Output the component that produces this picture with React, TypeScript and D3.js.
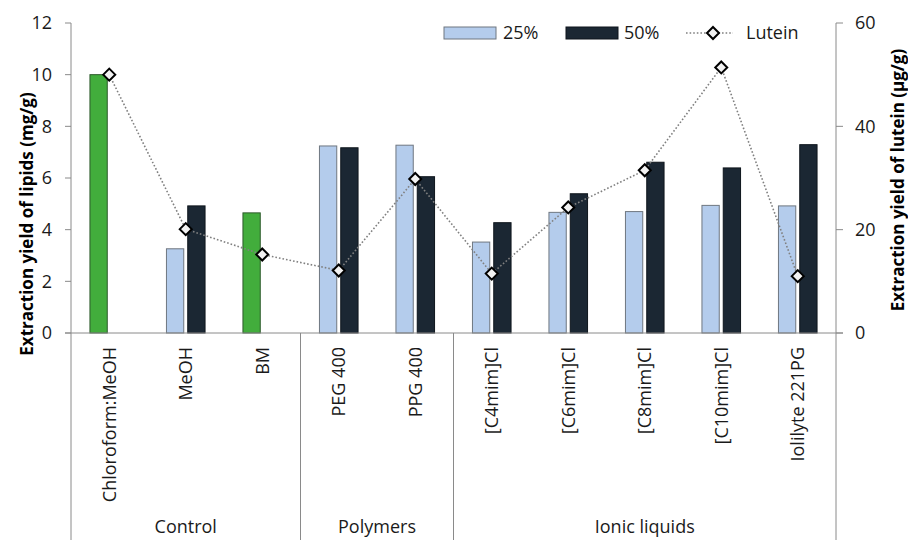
import React from "react";
import * as d3 from "d3";

const categories = ["Chloroform:MeOH", "MeOH", "BM", "PEG 400", "PPG 400", "[C4mim]Cl", "[C6mim]Cl", "[C8mim]Cl", "[C10mim]Cl", "Iolilyte 221PG"];
const groupNames = ["Control", "Polymers", "Ionic liquids"];
const groupSizes = [3, 2, 5];
const values25: (number | null)[] = [10.0, 3.26, 4.65, 7.24, 7.27, 3.52, 4.67, 4.7, 4.94, 4.92];
const values50: (number | null)[] = [null, 4.92, null, 7.17, 6.05, 4.27, 5.39, 6.61, 6.39, 7.29];
const lutein = [50.0, 20.1, 15.2, 12.1, 29.8, 11.5, 24.3, 31.5, 51.4, 11.0];
const greenCategories = ["Chloroform:MeOH", "BM"];
const leftTicks = [0, 2, 4, 6, 8, 10, 12];
const rightTicks = [0, 20, 40, 60];

const W = 908, H = 540;
const X0 = 71, X1 = 836, Y0 = 333, YT = 23;
const FONT = "'Open Sans', sans-serif";
const AXIS = "#8a8a8a";
const C25 = "#b4ccec", C50 = "#1b2733", CG = "#42ad3c";

export default function App() {
  const x = d3.scaleBand<string>().domain(categories).range([X0, X1]).padding(0);
  const yL = d3.scaleLinear().domain([0, 12]).range([Y0, YT]);
  const yR = d3.scaleLinear().domain([0, 60]).range([Y0, YT]);
  const bw = x.bandwidth();
  const barW = 17.3, gap = 4;
  const pairW = barW * 2 + gap;

  const line = d3.line<number>()
    .x((_, i) => x(categories[i])! + bw / 2)
    .y((d) => yR(d));

  const diamond = (cx: number, cy: number, r = 6) =>
    `M${cx},${cy - r}L${cx + r},${cy}L${cx},${cy + r}L${cx - r},${cy}Z`;

  const bounds: number[] = [];
  let acc = 0;
  const groupCenters: number[] = [];
  groupSizes.forEach((n) => {
    const start = x(categories[acc])!;
    const end = x(categories[acc + n - 1])! + bw;
    groupCenters.push((start + end) / 2);
    bounds.push(end);
    acc += n;
  });

  return (
    <svg width={W} height={H} style={{ position: "absolute", left: 0, top: 0, background: "#fff" }} fontFamily={FONT}>
      <rect x={0} y={0} width={W} height={H} fill="#fff" />
      {categories.map((c, i) => {
        const left = x(c)! + bw / 2 - pairW / 2;
        const isG = greenCategories.includes(c);
        const v1 = values25[i];
        const v2 = values50[i];
        return (
          <g key={c}>
            {v1 != null && (
              <rect x={left} y={yL(v1)} width={barW} height={Y0 - yL(v1)}
                fill={isG ? CG : C25} stroke={isG ? "#2d5a2a" : "#6f7780"} strokeWidth={1} />
            )}
            {v2 != null && (
              <rect x={left + barW + gap} y={yL(v2)} width={barW} height={Y0 - yL(v2)}
                fill={C50} stroke="#0e151c" strokeWidth={1} />
            )}
          </g>
        );
      })}
      <line x1={X0} x2={X0} y1={YT} y2={H} stroke={AXIS} strokeWidth={1} />
      <line x1={X1} x2={X1} y1={YT} y2={H} stroke={AXIS} strokeWidth={1} />
      <line x1={X0 - 6} x2={X1 + 7} y1={Y0} y2={Y0} stroke={AXIS} strokeWidth={1} />
      {bounds.slice(0, -1).map((b, i) => (
        <line key={i} x1={b} x2={b} y1={Y0} y2={H} stroke={AXIS} strokeWidth={1} />
      ))}
      {leftTicks.map((t) => (
        <g key={t}>
          <line x1={X0 - 6} x2={X0} y1={yL(t)} y2={yL(t)} stroke={AXIS} />
          <text x={52} y={yL(t)} dy="0.36em" textAnchor="end" fontSize={18} fill="#1a1a1a">{t}</text>
        </g>
      ))}
      {rightTicks.map((t) => (
        <g key={t}>
          <line x1={X1} x2={X1 + 7} y1={yR(t)} y2={yR(t)} stroke={AXIS} />
          <text x={855} y={yR(t)} dy="0.36em" textAnchor="start" fontSize={18} fill="#1a1a1a">{t}</text>
        </g>
      ))}
      <path d={line(lutein)!} fill="none" stroke="#808080" strokeWidth={1.6} strokeDasharray="1.6 2" />
      {lutein.map((v, i) => (
        <path key={i} d={diamond(x(categories[i])! + bw / 2, yR(v))} fill="#f2f2f2" stroke="#000" strokeWidth={2} />
      ))}
      {categories.map((c) => (
        <text key={c} transform={`translate(${x(c)! + bw / 2},347) rotate(-90)`} dy="0.36em"
          textAnchor="end" fontSize={18} fill="#1a1a1a">{c}</text>
      ))}
      {groupNames.map((g, i) => (
        <text key={g} x={groupCenters[i]} y={533} textAnchor="middle" fontSize={18} fill="#1a1a1a">{g}</text>
      ))}
      <text transform={`translate(33,224) rotate(-90)`} textAnchor="middle" fontSize={17} fontWeight="bold" fill="#000">
        Extraction yield of lipids (mg/g)
      </text>
      <text transform={`translate(904,180) rotate(-90)`} textAnchor="middle" fontSize={17} fontWeight="bold" fill="#000">
        Extraction yield of lutein (μg/g)
      </text>
      <rect x={444} y={27} width={52} height={12} fill={C25} stroke="#6f7780" />
      <text x={503} y={33} dy="0.36em" fontSize={18} fill="#1a1a1a">25%</text>
      <rect x={566} y={27} width={52} height={12} fill={C50} stroke="#0e151c" />
      <text x={624} y={33} dy="0.36em" fontSize={18} fill="#1a1a1a">50%</text>
      <line x1={686} x2={733} y1={33} y2={33} stroke="#808080" strokeWidth={1.6} strokeDasharray="1.6 2" />
      <path d={diamond(713, 33)} fill="#f2f2f2" stroke="#000" strokeWidth={2} />
      <text x={746} y={33} dy="0.36em" fontSize={18} fill="#1a1a1a">Lutein</text>
    </svg>
  );
}
